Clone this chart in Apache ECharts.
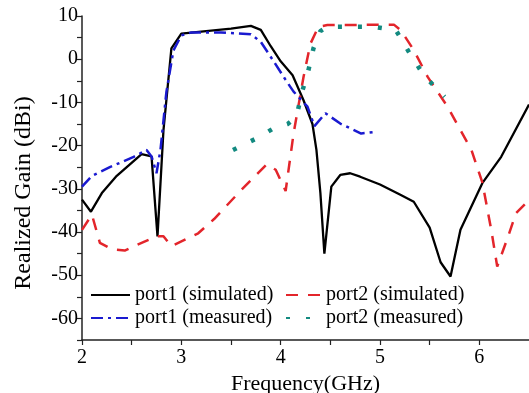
<!DOCTYPE html>
<html>
<head>
<meta charset="utf-8">
<script src="https://cdn.jsdelivr.net/npm/echarts@6/dist/echarts.min.js"></script>
<style>
  html, body { margin: 0; padding: 0; background: #fff; }
  #chart { width: 529px; height: 393px; }
</style>
</head>
<body>
<div id="chart"></div>
<script>
// frequency (GHz), realized gain (dBi)
const port1Sim = [
  [2.0, -32.5], [2.09, -35.3], [2.2, -31], [2.35, -27], [2.6, -22], [2.7, -22.5],
  [2.76, -41], [2.82, -16.5], [2.9, 2.5], [3.0, 5.9], [3.2, 6.4], [3.5, 7.1],
  [3.7, 7.7], [3.8, 6.8], [3.9, 3], [4.0, -0.5], [4.12, -3.7], [4.23, -9.5],
  [4.32, -15], [4.36, -21], [4.4, -31], [4.44, -45], [4.51, -29.5], [4.6, -26.8],
  [4.7, -26.4], [4.8, -27.2], [5.0, -29], [5.2, -31.3], [5.34, -33], [5.5, -39],
  [5.61, -47], [5.71, -50.3], [5.81, -39.5], [6.03, -28.7], [6.22, -22.6], [6.5, -10.5]
];
const port2Sim = [
  [2.0, -39.5], [2.1, -36], [2.18, -42.5], [2.3, -44], [2.43, -44.3], [2.6, -42.5],
  [2.75, -41], [2.82, -41], [2.9, -43.3], [3.17, -40.3], [3.33, -37], [3.59, -30.6],
  [3.86, -24.3], [3.95, -25.6], [4.05, -30.5], [4.13, -17.2], [4.23, -4.1], [4.3, 3.6],
  [4.38, 7.5], [4.47, 7.9], [5.14, 8.0], [5.21, 6.7], [5.34, 2.1], [5.48, -4.1],
  [5.68, -11], [5.92, -21], [6.03, -28.5], [6.12, -39.5], [6.18, -48], [6.29, -41],
  [6.37, -35.6], [6.5, -32.6]
];
const port1Meas = [
  [2.0, -29.5], [2.1, -27], [2.28, -25], [2.52, -22.6], [2.65, -21], [2.7, -22.5],
  [2.75, -26.4], [2.79, -21], [2.85, -7.5], [2.92, 2], [3.0, 5.5], [3.1, 6.2],
  [3.4, 6.2], [3.7, 5.8], [3.8, 4.0], [3.93, -0.5], [4.05, -4.8], [4.13, -7.5],
  [4.27, -11], [4.34, -15.5], [4.45, -12.5], [4.6, -14.9], [4.81, -17.2], [4.96, -16.8]
];
const port2Meas = [
  [3.52, -21], [3.76, -18.3], [3.93, -16], [4.07, -15], [4.16, -13.3], [4.21, -8],
  [4.28, -2.5], [4.33, 2.5], [4.4, 6.5], [4.47, 7.5], [4.7, 7.5], [4.94, 7.5],
  [5.16, 6.7], [5.29, 1.7], [5.44, -3.7], [5.65, -8.7]
];

const FONT = "'Liberation Serif', 'Times New Roman', serif";
const chart = echarts.init(document.getElementById('chart'));

function legendAt(name, left, top, w) {
  return {
    data: [name], left: left, top: top, itemWidth: w, itemHeight: 14,
    padding: 0, itemGap: 0,
    itemStyle: { color: 'transparent', borderColor: 'transparent', borderWidth: 0 },
    textStyle: { fontFamily: FONT, fontSize: 20, color: '#000' }
  };
}

chart.setOption({
  animation: false,
  backgroundColor: '#fff',
  grid: { left: 82, right: 0, top: 16, bottom: 53, outerBoundsMode: 'none', containLabel: false },
  legend: [
    legendAt('port1 (simulated)', 90, 285, 39),
    legendAt('port2 (simulated)', 285, 285, 35),
    legendAt('port1 (measured)', 90, 308, 39),
    legendAt('port2 (measured)', 285, 308, 35)
  ],
  xAxis: {
    type: 'value', min: 2, max: 6.5, interval: 0.5,
    name: 'Frequency(GHz)', nameLocation: 'middle', nameGap: 26,
    nameTextStyle: { fontFamily: FONT, fontSize: 22, color: '#000' },
    axisLine: { onZero: false, lineStyle: { color: '#222', width: 1.5 } },
    axisTick: { length: 5, lineStyle: { color: '#222', width: 1.2 } },
    axisLabel: {
      fontFamily: FONT, fontSize: 20, color: '#000', margin: 8, showMaxLabel: false,
      formatter: v => (v % 1 === 0 ? String(v) : '')
    },
    splitLine: { show: false }
  },
  yAxis: {
    type: 'value', min: -65, max: 10, interval: 5,
    name: 'Realized Gain (dBi)', nameLocation: 'middle', nameGap: 46,
    nameTextStyle: { fontFamily: FONT, fontSize: 24, color: '#000', padding: [0, 30, 0, 0] },
    axisLine: { show: true, onZero: false, lineStyle: { color: '#222', width: 1.5 } },
    axisTick: { length: 5, lineStyle: { color: '#222', width: 1.2 } },
    axisLabel: {
      fontFamily: FONT, fontSize: 20, color: '#000', margin: 4,
      formatter: v => (v % 10 === 0 ? String(v) : '')
    },
    splitLine: { show: false }
  },
  series: [
    {
      name: 'port1 (simulated)', type: 'line', data: port1Sim, symbol: 'none',
      lineStyle: { color: '#000', width: 2.3 }, itemStyle: { color: '#000' }
    },
    {
      name: 'port2 (simulated)', type: 'line', data: port2Sim, symbol: 'none',
      lineStyle: { color: '#e3252b', width: 2.5, type: [12, 10] }, itemStyle: { color: '#e3252b' }
    },
    {
      name: 'port1 (measured)', type: 'line', data: port1Meas, symbol: 'none',
      lineStyle: { color: '#1a1ad0', width: 2.5, type: [12, 5, 3, 5] }, itemStyle: { color: '#1a1ad0' }
    },
    {
      name: 'port2 (measured)', type: 'line', data: port2Meas, symbol: 'none',
      lineStyle: { color: '#138a80', width: 4.5, type: [4, 16] }, itemStyle: { color: '#138a80' }
    }
  ]
});
</script>
</body>
</html>
